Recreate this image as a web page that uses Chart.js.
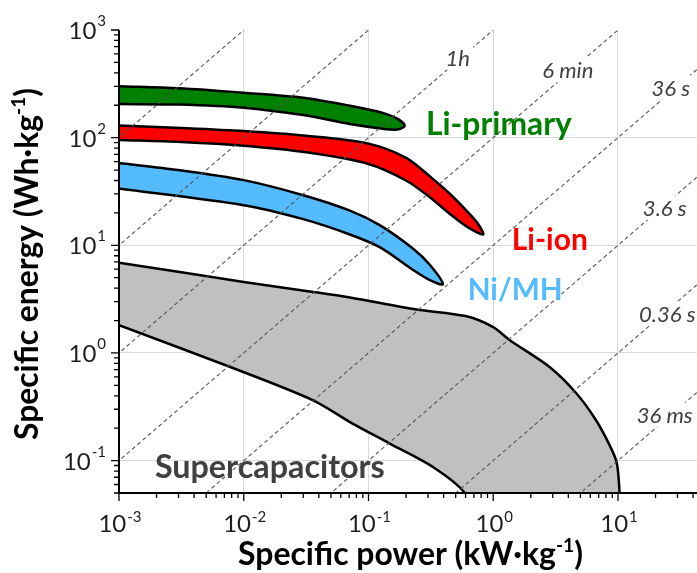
<!DOCTYPE html>
<html lang="en">
<head>
<meta charset="utf-8">
<title>Ragone plot</title>
<script src="https://cdn.jsdelivr.net/npm/chart.js@4.4.1/dist/chart.umd.min.js"></script>
<style>
  body { margin: 0; background: #fff; }
  canvas { display: block; }
</style>
</head>
<body>
<canvas id="ragone" width="697" height="573"></canvas>
<script>
// specific power P in kW/kg, specific energy E in Wh/kg
// every region = top edge + bottom edge (both left to right) and the tip where they meet

const liPrimaryTop    = [[0.001, 300], [0.003, 287], [0.01, 261], [0.03, 235], [0.071, 198], [0.13, 170], [0.17, 150]];
const liPrimaryTip    = [0.195, 129];
const liPrimaryBottom = [[0.001, 205], [0.003, 203], [0.01, 190], [0.03, 162], [0.071, 134], [0.13, 121], [0.17, 119]];

const liIonTop    = [[0.001, 130], [0.00316, 123], [0.01, 115], [0.0316, 104], [0.1, 88], [0.2, 65], [0.316, 43], [0.45, 30], [0.61, 21], [0.75, 16]];
const liIonTip    = [0.83, 12.6];
const liIonBottom = [[0.001, 95], [0.00316, 91], [0.01, 84], [0.0316, 73], [0.1, 57], [0.2, 40], [0.316, 27.5], [0.45, 19.5], [0.61, 15]];

const niMhTop    = [[0.001, 58], [0.003, 50], [0.01, 40.3], [0.03, 29.2], [0.071, 21], [0.123, 15.4], [0.228, 9.3], [0.31, 6.6]];
const niMhTip    = [0.395, 4.35];
const niMhBottom = [[0.001, 33.7], [0.01, 23.6], [0.03, 17.5], [0.071, 12.6], [0.123, 9.6], [0.228, 5.9], [0.31, 4.75]];

// supercapacitor region runs out through the bottom of the plot
const superCapTop    = [[0.001, 6.9], [0.01, 4.57], [0.036, 3.69], [0.071, 3.27], [0.243, 2.53], [0.6, 2.2], [1.0, 1.74], [1.36, 1.31],
                        [2.83, 0.74], [4.65, 0.42], [6.67, 0.237], [8.7, 0.134], [9.8, 0.094], [10.3, 0.05], [10.4, 0.03]];
const superCapBottom = [[0.001, 1.81], [0.0078, 0.74], [0.036, 0.363], [0.071, 0.228], [0.148, 0.144], [0.33, 0.087], [0.59, 0.05], [0.62, 0.03]];

const regionNames  = ['Li-primary', 'Li-ion', 'Ni/MH', 'Supercapacitors'];
const regionFill   = ['#008000', '#ff0000', '#55bbff', '#c0c0c0'];
const regionText   = ['#008000', '#ff0000', '#55bbff', '#404040'];
// where the names sit (P, E of the text baseline centre)
const regionNameP  = [1.11, 2.84, 1.50, 0.0162];
const regionNameE  = [105.5, 9.0, 3.09, 0.0685];
const regionNameW  = [146, 76, 95, 230];

// lines of constant discharge time, E/P in Wh per kW (1000 = 1 h)
const isoRatio  = [1e5, 1e4, 1e3, 1e2, 1e1, 1, 0.1, 0.01];
const timeLabels = ['1h', '6 min', '36 s', '3.6 s', '0.36 s', '36 ms'];
const timeLabelP = [0.52, 3.96, 26.5, 23.7, 24.8, 23.7];
const timeLabelE = [554, 424, 292, 22.4, 2.31, 0.267];

// axes
const xMin = 0.001, xMax = 43;
const yMin = 0.05, yMax = 1000;
const xDecades = [-3, -2, -1, 0, 1];
const yDecades = [-1, 0, 1, 2, 3];
const xGridLines = [0.01, 0.1, 1, 10];
const yGridLines = [0.1, 1, 10, 100];

function toPoints(list) {
  return list.map(p => ({ x: p[0], y: p[1] }));
}

// closed outline: top edge out to the tip, bottom edge back
function outline(top, tip, bottom) {
  const pts = top.slice();
  if (tip) pts.push(tip);
  return toPoints(pts.concat(bottom.slice().reverse()));
}

const regionOutlines = [
  outline(liPrimaryTop, liPrimaryTip, liPrimaryBottom),
  outline(liIonTop, liIonTip, liIonBottom),
  outline(niMhTop, niMhTip, niMhBottom),
  outline(superCapTop, null, superCapBottom)
];

const datasets = [];

isoRatio.forEach(r => {
  datasets.push({
    data: [{ x: 1e-4, y: r * 1e-4 }, { x: 1e3, y: r * 1e3 }],
    showLine: true,
    borderColor: '#555',
    borderWidth: 1.1,
    borderDash: [4, 3],
    pointRadius: 0,
    fill: false,
    order: 0
  });
});

regionOutlines.forEach((pts, i) => {
  datasets.push({
    label: regionNames[i],
    data: pts,
    showLine: true,
    borderColor: '#000',
    borderWidth: 2.5,
    backgroundColor: regionFill[i],
    fill: 'shape',
    tension: 0.3,
    pointRadius: 0,
    order: 1
  });
});

function richWidth(ctx, parts, size, weight) {
  let w = 0;
  for (const p of parts) {
    ctx.font = weight + ' ' + (p.sup ? size * 0.6 : size) + 'px Lato';
    w += ctx.measureText(p.t).width;
  }
  return w;
}

function drawRich(ctx, parts, cx, baseline, size, weight) {
  let xPos = cx - richWidth(ctx, parts, size, weight) / 2;
  for (const p of parts) {
    ctx.font = weight + ' ' + (p.sup ? size * 0.6 : size) + 'px Lato';
    ctx.fillText(p.t, xPos, p.sup ? baseline - size * 0.42 : baseline);
    xPos += ctx.measureText(p.t).width;
  }
}

// font size that makes the text the wanted width
function fitSize(ctx, text, weight, width) {
  ctx.font = weight + ' 100px Lato';
  return 100 * width / ctx.measureText(text).width;
}

const overlay = {
  id: 'overlay',
  afterDatasetsDraw(chart) {
    const { ctx, chartArea: a, scales: { x, y } } = chart;
    ctx.save();
    ctx.textAlign = 'left';
    ctx.textBaseline = 'alphabetic';

    // time labels on white boxes
    const tSize = fitSize(ctx, '36 ms', 'italic', 56);
    ctx.font = 'italic ' + tSize + 'px Lato';
    timeLabels.forEach((t, i) => {
      const cx = x.getPixelForValue(timeLabelP[i]);
      const cy = y.getPixelForValue(timeLabelE[i]);
      const w = ctx.measureText(t).width;
      ctx.fillStyle = '#fff';
      ctx.fillRect(cx - w / 2 - 3, cy - tSize * 0.55, w + 6, tSize * 1.1);
      ctx.fillStyle = '#404040';
      ctx.fillText(t, cx - w / 2, cy + tSize * 0.36);
    });

    // region names
    regionNames.forEach((name, i) => {
      const s = fitSize(ctx, name, 'bold', regionNameW[i]);
      ctx.font = 'bold ' + s + 'px Lato';
      ctx.fillStyle = regionText[i];
      ctx.fillText(name, x.getPixelForValue(regionNameP[i]) - regionNameW[i] / 2, y.getPixelForValue(regionNameE[i]));
    });

    // axis lines
    ctx.strokeStyle = '#000';
    ctx.lineWidth = 2;
    ctx.beginPath();
    ctx.moveTo(a.left, a.top);
    ctx.lineTo(a.left, a.bottom);
    ctx.lineTo(a.right, a.bottom);
    ctx.stroke();

    // major and minor tick marks
    ctx.lineWidth = 1.3;
    ctx.beginPath();
    for (let n = -3; n <= 1; n++) {
      for (let m = 1; m <= 9; m++) {
        const v = m * Math.pow(10, n);
        if (v < xMin || v > xMax) continue;
        const px = x.getPixelForValue(v);
        ctx.moveTo(px, a.bottom);
        ctx.lineTo(px, a.bottom + (m === 1 ? 8 : 5));
      }
    }
    for (let n = -2; n <= 3; n++) {
      for (let m = 1; m <= 9; m++) {
        const v = m * Math.pow(10, n);
        if (v < yMin || v > yMax) continue;
        const py = y.getPixelForValue(v);
        ctx.moveTo(a.left, py);
        ctx.lineTo(a.left - (m === 1 ? 8 : 5), py);
      }
    }
    ctx.stroke();

    // tick labels 10^n
    ctx.fillStyle = '#1e1e1e';
    const base = '24px Lato', sup = '15px Lato';
    ctx.font = base;
    const w10 = ctx.measureText('10').width;
    yDecades.forEach(n => {
      const py = y.getPixelForValue(Math.pow(10, n));
      ctx.font = sup;
      const we = ctx.measureText(String(n)).width;
      const x0 = 106 - w10 - we - 1;
      ctx.font = base;
      ctx.fillText('10', x0, py + 9);
      ctx.font = sup;
      ctx.fillText(String(n), x0 + w10 + 1, py - 4);
    });
    xDecades.forEach(n => {
      const px = x.getPixelForValue(Math.pow(10, n));
      ctx.font = sup;
      const we = ctx.measureText(String(n)).width;
      const x0 = px - (w10 + we + 1) / 2 + 1;
      ctx.font = base;
      ctx.fillText('10', x0, 532);
      ctx.font = sup;
      ctx.fillText(String(n), x0 + w10 + 1, 522);
    });

    // axis titles
    ctx.fillStyle = '#000';
    const xTitle = [{ t: 'Specific power (kW·kg' }, { t: '-1', sup: true }, { t: ')' }];
    const yTitle = [{ t: 'Specific energy (Wh·kg' }, { t: '-1', sup: true }, { t: ')' }];
    const xs = 100 * 345 / richWidth(ctx, xTitle, 100, 'bold');
    drawRich(ctx, xTitle, 410.5, 565, xs, 'bold');
    const ys = 100 * 352 / richWidth(ctx, yTitle, 100, 'bold');
    ctx.translate(38, 264);
    ctx.rotate(-Math.PI / 2);
    drawRich(ctx, yTitle, 0, 0, ys, 'bold');

    ctx.restore();
  }
};

new Chart(document.getElementById('ragone'), {
  type: 'scatter',
  data: { datasets: datasets },
  options: {
    responsive: false,
    animation: false,
    layout: { padding: { top: 30, right: 0, bottom: 0, left: 0 } },
    plugins: {
      legend: { display: false },
      tooltip: { enabled: false }
    },
    scales: {
      x: {
        type: 'logarithmic',
        min: xMin,
        max: xMax,
        afterBuildTicks: s => { s.ticks = xGridLines.map(v => ({ value: v })); },
        afterFit: s => { s.height = 80; },
        ticks: { display: false },
        grid: { color: '#d9d9d9', lineWidth: 1, drawTicks: false },
        border: { display: false }
      },
      y: {
        type: 'logarithmic',
        min: yMin,
        max: yMax,
        afterBuildTicks: s => { s.ticks = yGridLines.map(v => ({ value: v })); },
        afterFit: s => { s.width = 119; },
        ticks: { display: false },
        grid: { color: '#d9d9d9', lineWidth: 1, drawTicks: false },
        border: { display: false }
      }
    }
  },
  plugins: [overlay]
});
</script>
</body>
</html>
